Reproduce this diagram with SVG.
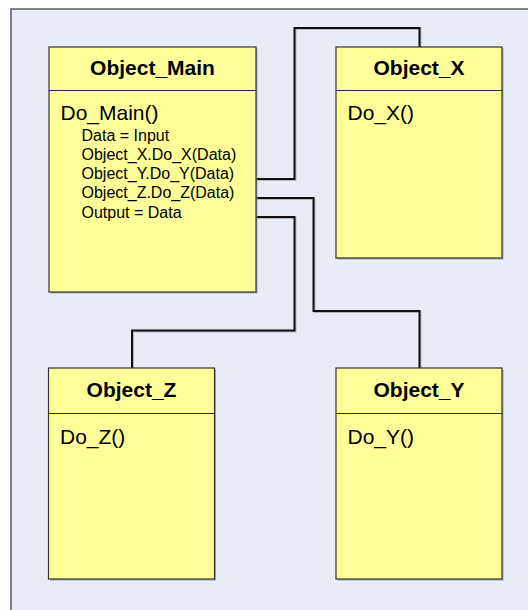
<svg xmlns="http://www.w3.org/2000/svg" width="528" height="610" viewBox="0 0 528 610">
  <style>
    .frame { fill: #e8ecf7; stroke: #5a5a5a; stroke-width: 1.5; }
    .shadow { fill: #8a8a8a; opacity: 0.7; }
    .box { fill: #ffff99; stroke: #333333; stroke-width: 1.2; }
    .divider { stroke: #333333; stroke-width: 1.2; }
    .title { font-family: "Liberation Sans", Arial, sans-serif; font-weight: bold; font-size: 21px; fill: #000; text-anchor: middle; }
    .op { font-family: "Liberation Sans", Arial, sans-serif; font-size: 21px; fill: #000; }
    .step { font-family: "Liberation Sans", Arial, sans-serif; font-size: 16px; fill: #000; }
    .wire { fill: none; stroke: #111111; stroke-width: 2; }
    .wire-shadow { fill: none; stroke: #9a9a9a; stroke-width: 2; opacity: 0.6; }
  </style>

  <rect x="0" y="0" width="528" height="610" fill="#ffffff"/>
  <rect class="frame" x="11" y="9" width="540" height="620"/>

  <g id="connectors">
    <path class="wire-shadow" transform="translate(1,1)" d="M256 179 H294.5 V28 H419.5 V47"/>
    <path class="wire-shadow" transform="translate(1,1)" d="M256 198 H313.5 V311 H419.5 V368"/>
    <path class="wire-shadow" transform="translate(1,1)" d="M256 217 H294.5 V330.5 H132 V368"/>
    <path class="wire" d="M256 179 H294.5 V28 H419.5 V47"/>
    <path class="wire" d="M256 198 H313.5 V311 H419.5 V368"/>
    <path class="wire" d="M256 217 H294.5 V330.5 H132 V368"/>
  </g>

  <g id="object-main">
    <rect class="shadow" x="50.5" y="48.5" width="207" height="245"/>
    <rect class="box" x="49" y="47" width="207" height="245"/>
    <line class="divider" x1="49" y1="90.5" x2="256" y2="90.5"/>
    <text class="title" x="152.5" y="75">Object_Main</text>
    <text class="op" x="60.5" y="120">Do_Main()</text>
    <text class="step" x="81.5" y="141">Data = Input</text>
    <text class="step" x="81.5" y="160">Object_X.Do_X(Data)</text>
    <text class="step" x="81.5" y="179">Object_Y.Do_Y(Data)</text>
    <text class="step" x="81.5" y="198">Object_Z.Do_Z(Data)</text>
    <text class="step" x="81.5" y="217.5">Output = Data</text>
  </g>

  <g id="object-x">
    <rect class="shadow" x="337.5" y="48.5" width="166" height="211"/>
    <rect class="box" x="336" y="47" width="166" height="211"/>
    <line class="divider" x1="336" y1="90.5" x2="502" y2="90.5"/>
    <text class="title" x="419" y="75">Object_X</text>
    <text class="op" x="347.5" y="120">Do_X()</text>
  </g>

  <g id="object-z">
    <rect class="shadow" x="50" y="369.5" width="166" height="211"/>
    <rect class="box" x="48.5" y="368" width="166" height="211"/>
    <line class="divider" x1="48.5" y1="413.5" x2="214.5" y2="413.5"/>
    <text class="title" x="131.5" y="396.5">Object_Z</text>
    <text class="op" x="60" y="444">Do_Z()</text>
  </g>

  <g id="object-y">
    <rect class="shadow" x="337.5" y="369.5" width="166" height="211"/>
    <rect class="box" x="336" y="368" width="166" height="211"/>
    <line class="divider" x1="336" y1="413.5" x2="502" y2="413.5"/>
    <text class="title" x="419" y="396.5">Object_Y</text>
    <text class="op" x="347.5" y="444">Do_Y()</text>
  </g>
</svg>
